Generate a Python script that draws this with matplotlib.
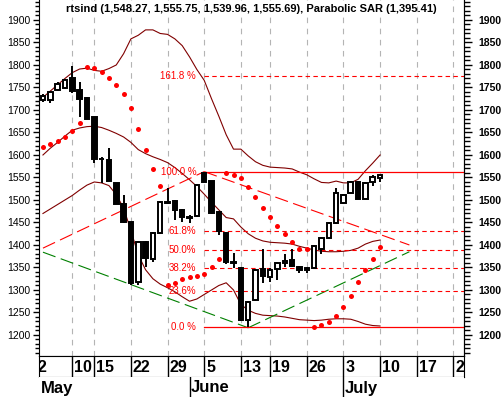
import numpy as np
import pandas as pd
import matplotlib
matplotlib.use("Agg")
import matplotlib.pyplot as plt
from matplotlib.ticker import MultipleLocator

plt.rcParams['font.family'] = ['Liberation Sans', 'DejaVu Sans']

# trading days on the axis (RTS, May 2 .. July 24 2006)
trade_days = (
    ['2006-05-%02d' % d for d in (2, 3, 4, 5, 6, 10, 11, 12, 15, 16, 17, 18, 19, 22, 23, 24, 25, 26, 29, 30, 31)]
    + ['2006-06-%02d' % d for d in (1, 2, 5, 6, 7, 8, 9, 13, 14, 15, 16, 19, 20, 21, 22, 23, 26, 27, 28, 29, 30)]
    + ['2006-07-%02d' % d for d in (3, 4, 5, 6, 7, 10, 11, 12, 13, 14, 17, 18, 19, 20, 21, 24)]
)

# candles from May 3 (index 1) to July 10 (index 47)
first_bar = 1
opens = [1722, 1722, 1745, 1748, 1770, 1745, 1727, 1684, 1592, 1588, 1537, 1492, 1450, 1318, 1407, 1368,
         1426, 1496, 1497, 1478, 1463, 1464, 1560, 1542, 1474, 1426, 1363, 1348, 1233, 1277, 1346, 1328,
         1346, 1361, 1366, 1351, 1348, 1348, 1392, 1415, 1449, 1494, 1515, 1541, 1503, 1540, 1548.27]
highs = [1735, 1742, 1762, 1769, 1797, 1763, 1728, 1685, 1595, 1615, 1538, 1511, 1452, 1409, 1409, 1428,
         1497, 1526, 1500, 1479, 1467, 1535, 1563, 1543, 1475, 1428, 1382, 1350, 1276, 1346, 1390, 1348,
         1363, 1380, 1390, 1353, 1350, 1399, 1417, 1450, 1526, 1514, 1542, 1543, 1540, 1555, 1555.75]
lows = [1718, 1715, 1743, 1746, 1738, 1685, 1680, 1583, 1538, 1542, 1490, 1449, 1312, 1310, 1352, 1362,
        1424, 1490, 1455, 1452, 1448, 1462, 1539, 1468, 1422, 1358, 1348, 1230, 1217, 1275, 1315, 1318,
        1322, 1352, 1351, 1337, 1337, 1347, 1381, 1414, 1447, 1492, 1513, 1502, 1502, 1530, 1539.96]
closes = [1730, 1740, 1758, 1767, 1742, 1725, 1681, 1590, 1590, 1543, 1492, 1451, 1316, 1407, 1370, 1426,
          1495, 1493, 1478, 1463, 1459, 1533, 1541, 1470, 1430, 1362, 1359, 1233, 1274, 1344, 1331, 1345,
          1360, 1364, 1353, 1345, 1345, 1397, 1415, 1448, 1515, 1512, 1540, 1503, 1537, 1550, 1555.69]

sar = [1618, 1624, 1630, 1641, 1653, 1670, 1796, 1794, 1785, 1770, 1756, 1735, 1705, 1658, 1610, 1568,
       1532, 1311, 1316, 1324, 1328, 1330, 1336, 1350, 1368, 1561, 1556, 1548, 1528, 1506, 1482, 1462,
       1442, 1424, 1406, 1391, 1390, 1217, 1222, 1228, 1242, 1263, 1287, 1318, 1344, 1369, 1395.41]

bb_upper = [1728, 1742, 1756, 1770, 1783, 1791, 1793, 1788, 1786, 1792, 1800, 1825, 1858, 1866, 1878, 1878,
            1870, 1868, 1858, 1843, 1818, 1790, 1766, 1725, 1686, 1645, 1613, 1613, 1598, 1585, 1577, 1573,
            1572, 1571, 1569, 1562, 1556, 1547, 1539, 1538, 1542, 1538, 1538, 1546, 1565, 1582, 1600]
bb_mid = [1600, 1615, 1628, 1642, 1655, 1660, 1663, 1664, 1661, 1655, 1648, 1640, 1628, 1612, 1603, 1596,
          1590, 1583, 1572, 1559, 1545, 1530, 1513, 1495, 1478, 1461, 1458, 1440, 1425, 1415, 1409, 1406,
          1405, 1404, 1402, 1397, 1393, 1389, 1386, 1385, 1385, 1386, 1388, 1393, 1402, 1408, 1411]
bb_lower = [1470, 1480, 1490, 1500, 1510, 1522, 1533, 1540, 1538, 1532, 1512, 1482, 1432, 1378, 1345, 1325,
            1313, 1305, 1296, 1285, 1275, 1280, 1290, 1300, 1310, 1316, 1300, 1268, 1255, 1248, 1244, 1243,
            1242, 1240, 1237, 1234, 1233, 1232, 1233, 1235, 1236, 1236, 1235, 1230, 1224, 1221, 1220]

# trend lines: (bar index, price) end points
green_lines = [[(1, 1384), (29, 1216)], [(29, 1216), (51, 1385)]]
red_lines = [[(1, 1393), (23, 1563)], [(23, 1563), (51, 1400)]]

# fibonacci retracement between the June 5 high and the June 14 low
fib_start = 23
fib_low, fib_high = 1217, 1562
fib_ratios = [0.0, 0.236, 0.382, 0.5, 0.618, 1.0, 1.618]
fib_labels = ['0.0 %', '23.6%', '38.2%', '50.0%', '61.8%', '100.0 %', '161.8 %']

y_ticks = list(range(1200, 1901, 50))

W, H = 503, 397
x_lo, x_hi = 0.46, 58.45
y_lo, y_hi = 1153.3, 1944.4

fig = plt.figure(figsize=(W / 100, H / 100), dpi=100)
ax = fig.add_axes([39 / W, 41 / H, 425 / W, 356 / H])
ax.set_xlim(x_lo, x_hi)
ax.set_ylim(y_lo, y_hi)

dates = pd.to_datetime(trade_days)
iso_week = dates.isocalendar().week.values
week_idx = [i for i in range(len(dates)) if i == 0 or iso_week[i] != iso_week[i - 1]]
month_idx = [i for i in range(len(dates)) if i == 0 or dates[i].month != dates[i - 1].month]

for i in week_idx:
    ax.axvline(i, color='#b4b4b4', lw=0.8, dashes=(5, 5), zorder=0)

x = np.arange(first_bar, first_bar + len(closes))
band_col = '#800000'
for band in (bb_upper, bb_mid, bb_lower):
    ax.plot(x, band, color=band_col, lw=0.8, zorder=2)

for seg in green_lines:
    (xa, ya), (xb, yb) = seg
    ax.plot([xa, xb], [ya, yb], color='#008000', lw=0.8, dashes=(12, 5), zorder=2)
for seg in red_lines:
    (xa, ya), (xb, yb) = seg
    ax.plot([xa, xb], [ya, yb], color='#ff0000', lw=0.8, dashes=(12, 5), zorder=2)

for r, lab in zip(fib_ratios, fib_labels):
    lvl = fib_low + r * (fib_high - fib_low)
    if r in (0.0, 1.0):
        ax.plot([fib_start, x_hi], [lvl, lvl], color='#ff0000', lw=0.9, zorder=2)
    else:
        ax.plot([fib_start, x_hi], [lvl, lvl], color='#ff0000', lw=0.8, dashes=(4, 3), zorder=2)
    ax.text(fib_start - 1.1, lvl, lab, color='#ff0000', fontsize=7, ha='right', va='center', zorder=3)

# candles
opens_a, closes_a = np.array(opens), np.array(closes)
ax.vlines(x, lows, highs, color='black', lw=1.4, zorder=4)
up = closes_a >= opens_a
ax.bar(x, np.abs(closes_a - opens_a), bottom=np.minimum(opens_a, closes_a), width=0.62,
       color=np.where(up, 'white', 'black'), edgecolor='black', linewidth=1.4, zorder=5)

ax.plot(x, sar, 'o', color='#ff0000', ms=3.6, mec='none', zorder=6)

title = 'rtsind ({:,.2f}, {:,.2f}, {:,.2f}, {:,.2f}), Parabolic SAR ({:,.2f})'.format(
    opens[-1], highs[-1], lows[-1], closes[-1], sar[-1])
ax.text(0.5, 1 - 8.5 / 356, title, transform=ax.transAxes, ha='center', va='center',
        fontsize=8, fontweight='bold')

ax.spines['top'].set_visible(False)
ax.set_xticks([])
ax.set_yticks(y_ticks)
ax.yaxis.set_minor_locator(MultipleLocator(10))
ax.tick_params(axis='y', which='major', direction='out', length=4, width=1, labelsize=7.5, pad=2)
ax.tick_params(axis='y', which='minor', direction='out', length=3, width=1)

sec = ax.secondary_yaxis('right')
sec.set_yticks(y_ticks)
sec.yaxis.set_minor_locator(MultipleLocator(10))
sec.tick_params(axis='y', which='major', direction='out', length=6, width=1, labelsize=7.5, pad=4)
sec.tick_params(axis='y', which='minor', direction='out', length=4, width=1)
for t in sec.get_yticklabels():
    t.set_fontweight('bold')

# date strip
dax = fig.add_axes([39 / W, 20 / H, 425 / W, 21 / H])
dax.set_xlim(x_lo, x_hi)
dax.set_ylim(0, 1)
dax.set_xticks([])
dax.set_yticks([])
for i in week_idx:
    dax.axvline(i, color='black', lw=1)
    dax.text(i + 0.25, 0.45, str(dates[i].day), fontsize=11.5, fontweight='bold',
             ha='left', va='center', clip_on=True)

# month strip
max_ = fig.add_axes([39 / W, 0, 425 / W, 20 / H])
max_.set_xlim(x_lo, x_hi)
max_.set_ylim(0, 1)
max_.set_xticks([])
max_.set_yticks([])
for s in max_.spines.values():
    s.set_visible(False)
for i in month_idx:
    if i > x_lo:
        max_.axvline(i, color='black', lw=1)
    max_.text(max(i, x_lo) + 0.2, 0.45, dates[i].strftime('%B'), fontsize=12, fontweight='bold',
              ha='left', va='center', clip_on=True)

fig.savefig('out.png', dpi=100)
